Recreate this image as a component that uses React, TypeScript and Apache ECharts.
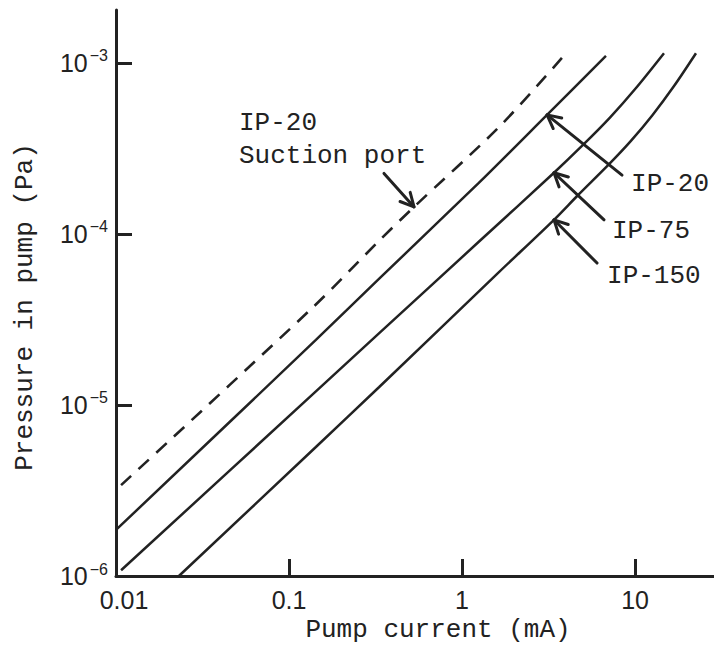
import React, { useEffect, useRef } from "react";
import * as echarts from "echarts";

// ---- axis ticks ----
const xTicks = [0.01, 0.1, 1, 10];
const yTicks = [1e-6, 1e-5, 1e-4, 1e-3];
const xMin = 0.01;
const xMax = 28.6;
const yMin = 1e-6;
const yMax = 2.04e-3;

// ---- series (pump current mA, pressure Pa) ----
const suctionI = [0.0107, 0.138, 0.331, 0.528, 1.64, 3.78];
const suctionP = [3.4e-6, 3.74e-5, 9.1e-5, 1.44e-4, 4.23e-4, 1.07e-3];

const ip20I = [0.01, 0.143, 0.331, 1.25, 3.1, 6.79];
const ip20P = [1.86e-6, 2.4e-5, 5.46e-5, 1.99e-4, 4.97e-4, 1.1e-3];

const ip75I = [0.0107, 0.143, 0.331, 1.25, 3.4, 5.07, 7.16, 10.1, 14.7];
const ip75P = [1.08e-6, 1.2e-5, 2.62e-5, 9.0e-5, 2.28e-4, 3.36e-4, 4.79e-4, 7.11e-4, 1.14e-3];

const ip150I = [0.0231, 0.143, 0.331, 1.64, 3.4, 4.69, 7.08, 9.44, 12.6, 16.8, 22.5];
const ip150P = [1e-6, 5.68e-6, 1.27e-5, 6.0e-5, 1.21e-4, 1.69e-4, 2.56e-4, 3.49e-4, 4.95e-4, 7.33e-4, 1.14e-3];

// ---- annotations (data coordinates) ----
const arrowLabels = ["IP-20", "IP-75", "IP-150"];
const arrowHeadI = [3.1, 3.4, 3.4];
const arrowHeadP = [4.97e-4, 2.28e-4, 1.21e-4];
const arrowTailI = [8.41, 6.62, 6.03];
const arrowTailP = [2.21e-4, 1.21e-4, 6.76e-5];
const labelI = [9.48, 7.36, 6.89];
const labelP = [1.96e-4, 1.04e-4, 5.68e-5];

const suctionText = "IP-20\nSuction port";
const suctionTextI = 0.0514;
const suctionTextP = 3.57e-4;
const suctionArrowHead = [0.528, 1.44e-4];
const suctionArrowTail = [0.354, 2.26e-4];

const INK = "#222";
const MONO = '"Liberation Mono", "Courier New", monospace';
const SANS = '"Liberation Sans", Arial, sans-serif';

function zip(a: number[], b: number[]) {
  return a.map((v, i) => [v, b[i]]);
}

export default function App() {
  const ref = useRef<HTMLDivElement>(null);

  useEffect(() => {
    if (!ref.current) return;
    const chart = echarts.init(ref.current, undefined, { renderer: "svg" });

    const lineBase = {
      type: "line" as const,
      showSymbol: false,
      symbol: "none",
      smooth: 0.3,
      silent: true,
      clip: false,
    };

    chart.setOption({
      animation: false,
      backgroundColor: "#fff",
      grid: { left: 116, right: 0, top: 10, bottom: 69, outerBoundsMode: "none" },
      xAxis: {
        type: "log",
        min: xMin,
        max: xMax,
        name: "Pump current (mA)",
        nameLocation: "middle",
        nameGap: 40,
        nameTextStyle: {
          fontFamily: MONO,
          fontSize: 26,
          color: INK,
          padding: [0, 0, 0, 46],
        },
        axisLine: { lineStyle: { color: INK, width: 3 } },
        axisTick: {
          inside: true,
          length: 17,
          customValues: xTicks,
          lineStyle: { color: INK, width: 3 },
        },
        minorTick: { show: false },
        splitLine: { show: false },
        axisLabel: {
          customValues: xTicks,
          margin: 11,
          fontFamily: SANS,
          fontSize: 25,
          color: INK,
          formatter: (v: number) => {
            const s = String(Number(v.toPrecision(6)));
            return v < 0.05 ? `{f|${s}}` : s;
          },
          rich: {
            f: { fontFamily: SANS, fontSize: 25, color: INK, padding: [0, 0, 0, 16] },
          },
        },
      },
      yAxis: {
        type: "log",
        min: yMin,
        max: yMax,
        name: "Pressure in pump (Pa)",
        nameLocation: "middle",
        nameGap: 78,
        nameTextStyle: {
          fontFamily: MONO,
          fontSize: 26,
          color: INK,
          padding: [0, 28, 0, 0],
        },
        axisLine: { lineStyle: { color: INK, width: 3 } },
        axisTick: {
          inside: true,
          length: 16,
          customValues: yTicks,
          lineStyle: { color: INK, width: 3 },
        },
        minorTick: { show: false },
        splitLine: { show: false },
        axisLabel: {
          customValues: yTicks,
          margin: 8,
          formatter: (v: number) => {
            const e = Math.round(Math.log10(v));
            return `{b|10}{s|${e < 0 ? "\u2212" : ""}${Math.abs(e)}}`;
          },
          rich: {
            b: { fontFamily: SANS, fontSize: 25, color: INK, lineHeight: 30 },
            s: {
              fontFamily: SANS,
              fontSize: 16,
              color: INK,
              lineHeight: 16,
              verticalAlign: "top",
              padding: [0, 0, 0, 2],
            },
          },
        },
      },
      series: [
        {
          ...lineBase,
          name: "IP-20 Suction port",
          data: zip(suctionI, suctionP),
          lineStyle: { color: INK, width: 2.6, type: [14, 10] },
        },
        {
          ...lineBase,
          name: "IP-20",
          data: zip(ip20I, ip20P),
          lineStyle: { color: INK, width: 2.5 },
        },
        {
          ...lineBase,
          name: "IP-75",
          data: zip(ip75I, ip75P),
          lineStyle: { color: INK, width: 2.5 },
        },
        {
          ...lineBase,
          name: "IP-150",
          data: zip(ip150I, ip150P),
          lineStyle: { color: INK, width: 2.5 },
        },
      ],
    });

    const toPx = (x: number, y: number): number[] =>
      chart.convertToPixel({ xAxisIndex: 0, yAxisIndex: 0 }, [x, y]) as number[];

    const arrow = (head: number[], tail: number[]) => {
      const dx = tail[0] - head[0];
      const dy = tail[1] - head[1];
      const len = Math.hypot(dx, dy) || 1;
      const ux = dx / len;
      const uy = dy / len;
      const ang = (27 * Math.PI) / 180;
      const L = 15;
      const rot = (a: number) => [
        head[0] + L * (ux * Math.cos(a) - uy * Math.sin(a)),
        head[1] + L * (ux * Math.sin(a) + uy * Math.cos(a)),
      ];
      const style = { stroke: INK, lineWidth: 3, fill: "none", lineCap: "round", lineJoin: "round" };
      return [
        {
          type: "line",
          shape: { x1: tail[0], y1: tail[1], x2: head[0], y2: head[1] },
          style,
          silent: true,
        },
        {
          type: "polyline",
          shape: { points: [rot(ang), head, rot(-ang)] },
          style,
          silent: true,
        },
      ];
    };

    const elements: any[] = [];
    arrowLabels.forEach((t, i) => {
      const h = toPx(arrowHeadI[i], arrowHeadP[i]);
      const tl = toPx(arrowTailI[i], arrowTailP[i]);
      elements.push(...arrow(h, tl));
      const lp = toPx(labelI[i], labelP[i]);
      elements.push({
        type: "text",
        x: lp[0],
        y: lp[1],
        silent: true,
        style: {
          text: t,
          fontFamily: MONO,
          fontSize: 26,
          fill: INK,
          align: "left",
          verticalAlign: "middle",
        },
      });
    });
    {
      const h = toPx(suctionArrowHead[0], suctionArrowHead[1]);
      const tl = toPx(suctionArrowTail[0], suctionArrowTail[1]);
      elements.push(...arrow(h, tl));
      const sp = toPx(suctionTextI, suctionTextP);
      elements.push({
        type: "text",
        x: sp[0],
        y: sp[1],
        silent: true,
        style: {
          text: suctionText,
          fontFamily: MONO,
          fontSize: 26,
          lineHeight: 33,
          fill: INK,
          align: "left",
          verticalAlign: "middle",
        },
      });
    }
    chart.setOption({ graphic: { elements } });

    return () => chart.dispose();
  }, []);

  return (
    <div
      ref={ref}
      style={{ position: "fixed", left: 0, top: 0, width: 714, height: 645, background: "#fff" }}
    />
  );
}
